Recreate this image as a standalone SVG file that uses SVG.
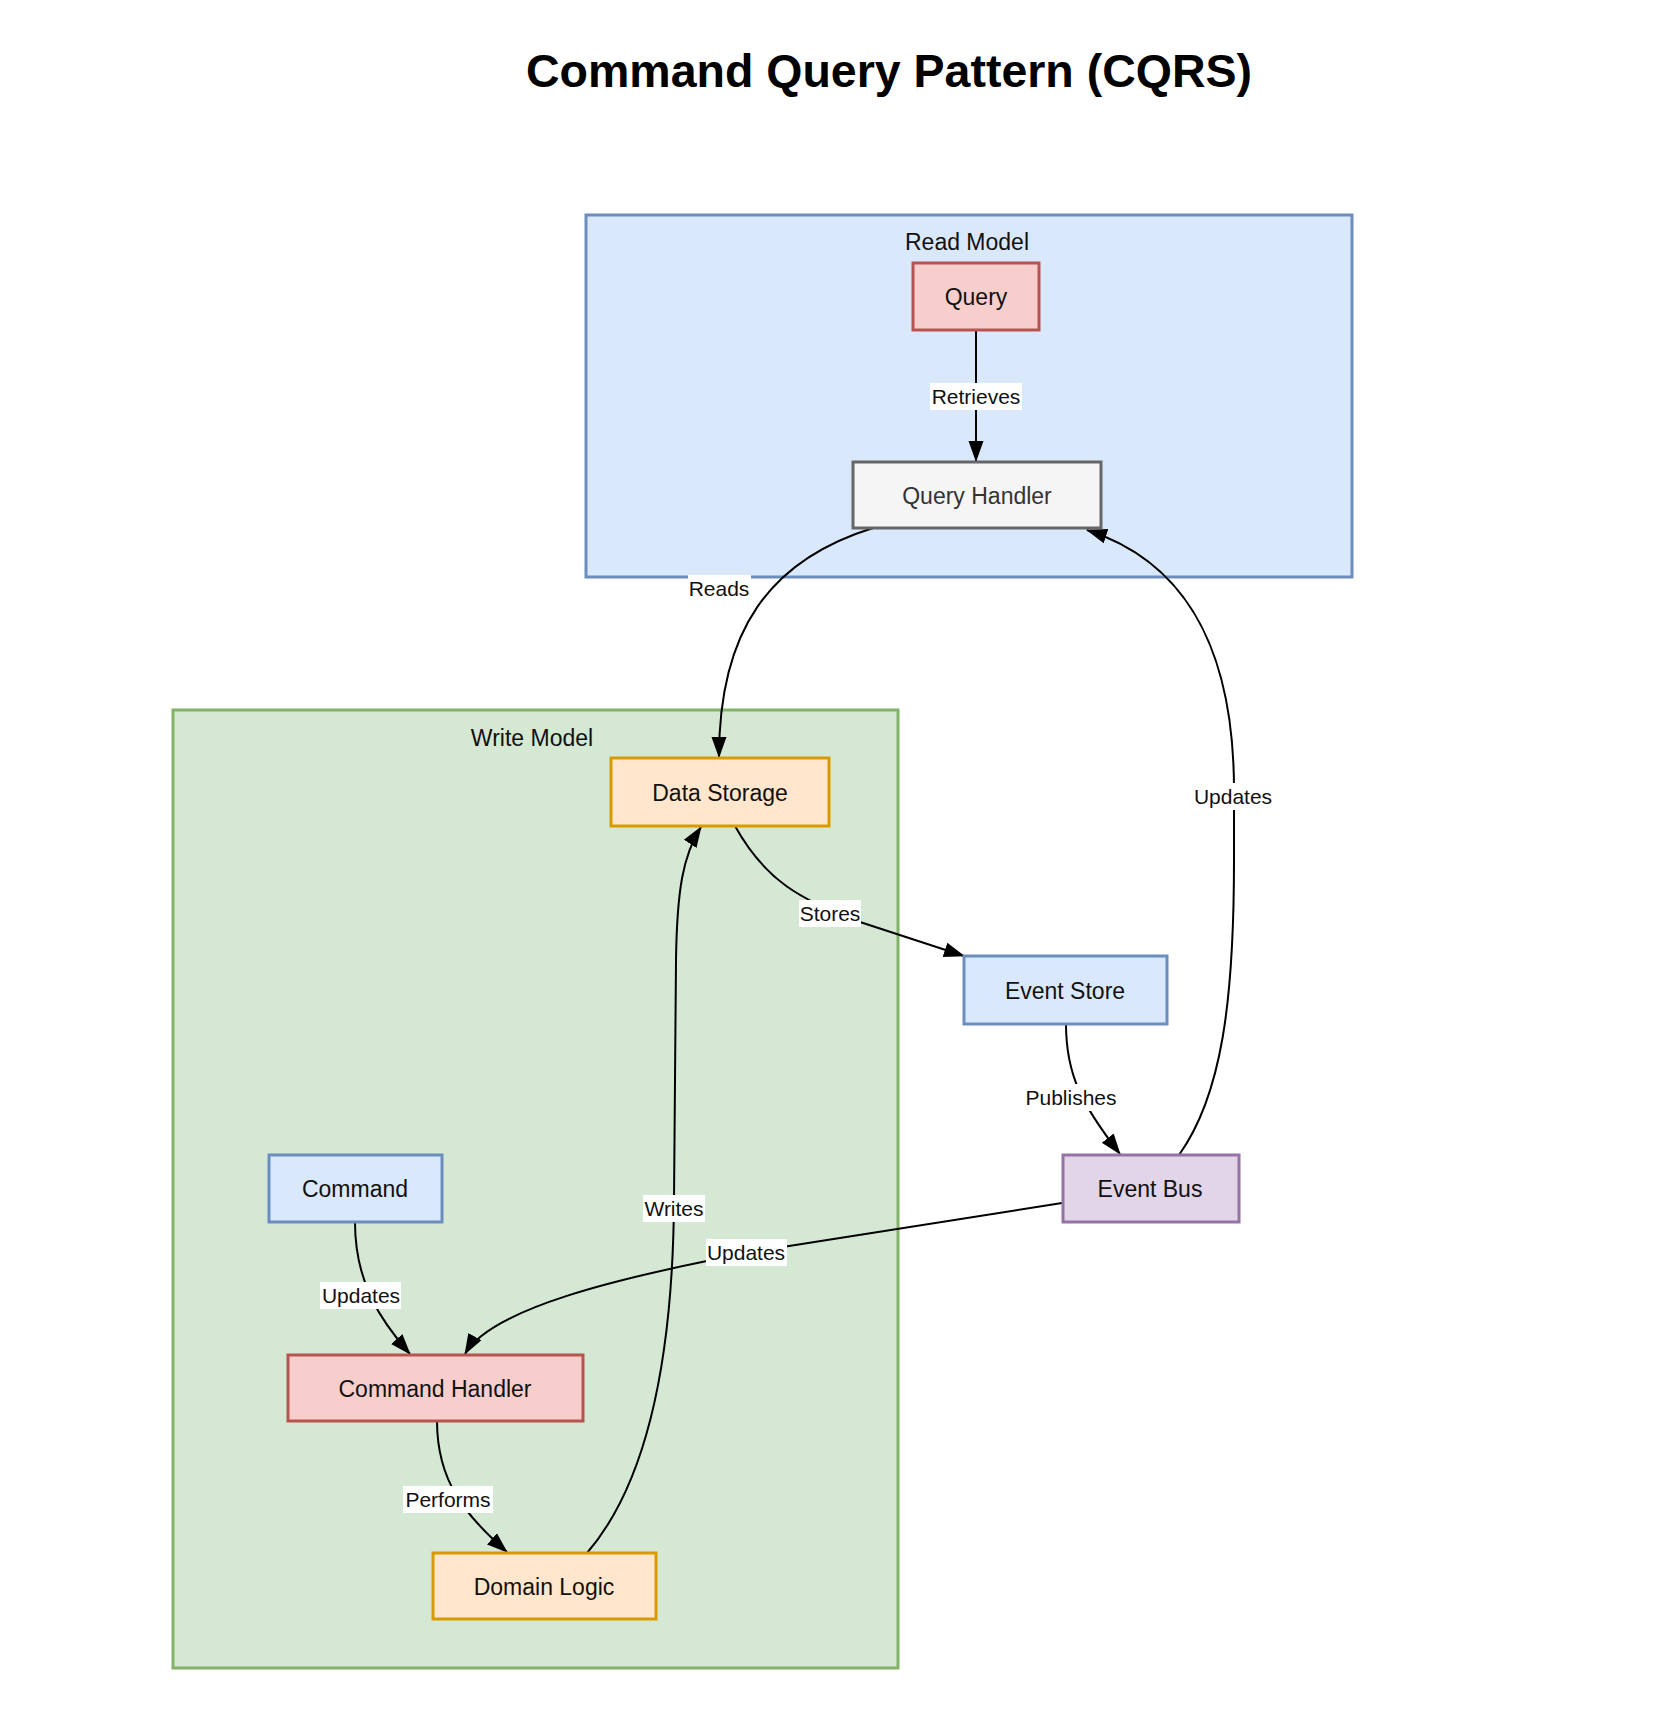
<svg xmlns="http://www.w3.org/2000/svg" width="1678" height="1736" viewBox="0 0 1678 1736">
<defs>
<marker id="arr" markerUnits="userSpaceOnUse" markerWidth="21" markerHeight="17" viewBox="0 0 21 17" refX="20" refY="8.5" orient="auto">
<path d="M0,1 L21,8.5 L0,16 Z" fill="#000"/>
</marker>
<style>
.box{stroke-width:3}
.blue{fill:#dae8fc;stroke:#6c8ebf}
.green{fill:#d5e8d4;stroke:#82b366}
.red{fill:#f8cecc;stroke:#b85450}
.gray{fill:#f5f5f5;stroke:#666666}
.orange{fill:#ffe6cc;stroke:#d79b00}
.purple{fill:#e1d5e7;stroke:#9673a6}
.nt{font-family:"Liberation Sans",Arial,sans-serif;font-size:23px;fill:#111111;text-anchor:middle}
.ct{font-family:"Liberation Sans",Arial,sans-serif;font-size:23px;fill:#111111;text-anchor:middle}
.lt{font-family:"Liberation Sans",Arial,sans-serif;font-size:21px;fill:#111111;text-anchor:middle}
.lb{fill:#ffffff}
.edge{fill:none;stroke:#000;stroke-width:2}
</style>
</defs>
<rect width="1678" height="1736" fill="#ffffff"/>
<text x="889" y="87" font-family="'Liberation Sans',Arial,sans-serif" font-size="46.5" font-weight="bold" text-anchor="middle" fill="#000">Command Query Pattern (CQRS)</text>

<g id="read-model">
<rect class="box blue" x="586" y="215" width="766" height="362"/>
<text class="ct" x="967" y="250">Read Model</text>
</g>
<g id="write-model">
<rect class="box green" x="173" y="710" width="725" height="958"/>
<text class="ct" x="532" y="746">Write Model</text>
</g>

<g id="edges">
<path class="edge" d="M976 330 L976 461" marker-end="url(#arr)"/>
<path class="edge" d="M873 528 C770 560 719 630 719 757" marker-end="url(#arr)"/>
<path class="edge" d="M1179 1155 C1222 1095 1234 1000 1234 860 L1234 790 C1234 640 1180 560 1087 530" marker-end="url(#arr)"/>
<path class="edge" d="M735 826 C765 880 800 900 860 922 L964 956" marker-end="url(#arr)"/>
<path class="edge" d="M1066 1024 C1066 1075 1082 1105 1120 1154" marker-end="url(#arr)"/>
<path class="edge" d="M1062 1203 L770 1249 C610 1278 490 1310 465 1354" marker-end="url(#arr)"/>
<path class="edge" d="M355 1222 C355 1282 380 1320 410 1354" marker-end="url(#arr)"/>
<path class="edge" d="M437 1421 C437 1482 466 1516 507 1552" marker-end="url(#arr)"/>
<path class="edge" d="M587 1553 C650 1480 673 1350 674 1200 L676 960 C677 890 683 855 701 827" marker-end="url(#arr)"/>
<rect class="lb" x="930" y="383" width="92" height="27"/>
<text class="lt" x="976" y="404">Retrieves</text>
<rect class="lb" x="688" y="575" width="63" height="27"/>
<text class="lt" x="719" y="596">Reads</text>
<rect class="lb" x="1193" y="783" width="81" height="27"/>
<text class="lt" x="1233" y="804">Updates</text>
<rect class="lb" x="799" y="900" width="62" height="27"/>
<text class="lt" x="830" y="921">Stores</text>
<rect class="lb" x="1024" y="1084" width="94" height="27"/>
<text class="lt" x="1071" y="1105">Publishes</text>
<rect class="lb" x="643" y="1195" width="62" height="27"/>
<text class="lt" x="674" y="1216">Writes</text>
<rect class="lb" x="706" y="1239" width="81" height="27"/>
<text class="lt" x="746" y="1260">Updates</text>
<rect class="lb" x="320" y="1282" width="81" height="27"/>
<text class="lt" x="361" y="1303">Updates</text>
<rect class="lb" x="403" y="1486" width="90" height="27"/>
<text class="lt" x="448" y="1507">Performs</text>
</g>

<g id="query">
<rect class="box red" x="913" y="263" width="126" height="67"/>
<text class="nt" x="976" y="305">Query</text>
</g>
<g id="query-handler">
<rect class="box gray" x="853" y="462" width="248" height="66"/>
<text class="nt" x="977" y="504" style="fill:#333333">Query Handler</text>
</g>
<g id="data-storage">
<rect class="box orange" x="611" y="758" width="218" height="68"/>
<text class="nt" x="720" y="801">Data Storage</text>
</g>
<g id="event-store">
<rect class="box blue" x="964" y="956" width="203" height="68"/>
<text class="nt" x="1065" y="999">Event Store</text>
</g>
<g id="event-bus">
<rect class="box purple" x="1063" y="1155" width="176" height="67"/>
<text class="nt" x="1150" y="1197">Event Bus</text>
</g>
<g id="command">
<rect class="box blue" x="269" y="1155" width="173" height="67"/>
<text class="nt" x="355" y="1197">Command</text>
</g>
<g id="command-handler">
<rect class="box red" x="288" y="1355" width="295" height="66"/>
<text class="nt" x="435" y="1397">Command Handler</text>
</g>
<g id="domain-logic">
<rect class="box orange" x="433" y="1553" width="223" height="66"/>
<text class="nt" x="544" y="1595">Domain Logic</text>
</g>
</svg>
